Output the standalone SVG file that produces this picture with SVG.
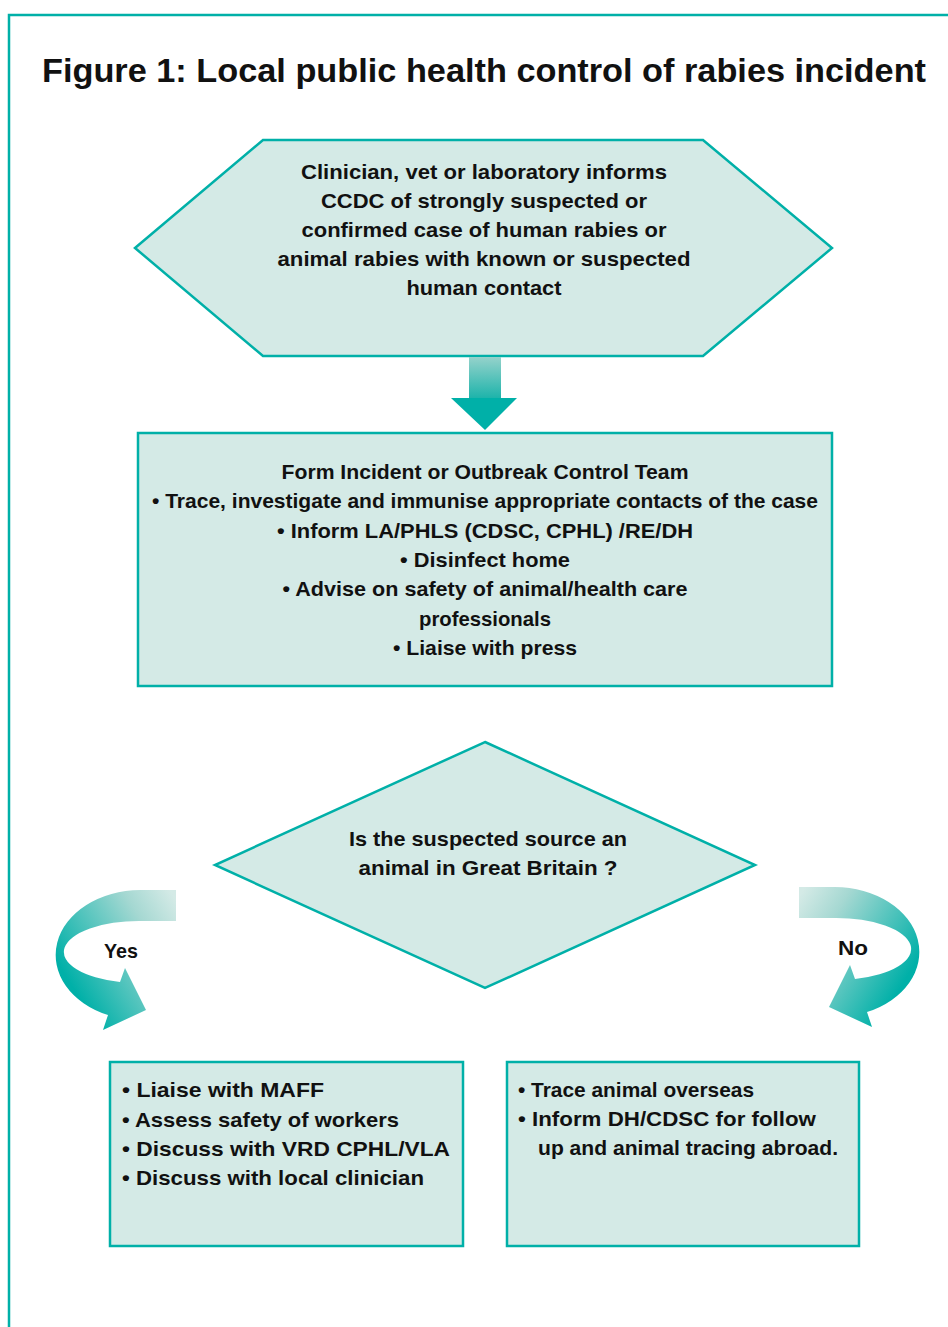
<svg xmlns="http://www.w3.org/2000/svg" width="948" height="1327" viewBox="0 0 948 1327">
<defs>
<style>
.shape{fill:#D4EAE6;stroke:#00B0A8;stroke-width:2.5}
.t{font-family:"Liberation Sans",Arial,sans-serif;font-weight:bold;font-size:21px;fill:#111}
.c{text-anchor:middle}
.title{font-family:"Liberation Sans",Arial,sans-serif;font-weight:bold;font-size:33px;fill:#111}
</style>
<linearGradient id="shaft" x1="0" y1="0" x2="0" y2="1">
<stop offset="0" stop-color="#95D2CB"/>
<stop offset="1" stop-color="#1BB3AA"/>
</linearGradient>
<linearGradient id="bend" gradientUnits="userSpaceOnUse" x1="176" y1="900" x2="62" y2="970">
<stop offset="0" stop-color="#D4EAE6"/>
<stop offset="0.3" stop-color="#A5D8D2"/>
<stop offset="1" stop-color="#00B0A8"/>
</linearGradient>
</defs>
<rect width="948" height="1327" fill="#fff"/>
<path d="M9,1327 L9,15 L948,15" fill="none" stroke="#00B0A8" stroke-width="2.5"/>
<text class="title" x="42" y="82" textLength="884" lengthAdjust="spacingAndGlyphs">Figure 1: Local public health control of rabies incident</text>

<g id="node-start">
<polygon class="shape" points="135,248 263,140 703,140 832,248 703,356 263,356"/>
<text class="t c" x="484" y="179" textLength="366" lengthAdjust="spacingAndGlyphs">Clinician, vet or laboratory informs</text>
<text class="t c" x="484" y="208" textLength="326" lengthAdjust="spacingAndGlyphs">CCDC of strongly suspected or</text>
<text class="t c" x="484" y="237" textLength="365" lengthAdjust="spacingAndGlyphs">confirmed case of human rabies or</text>
<text class="t c" x="484" y="266" textLength="413" lengthAdjust="spacingAndGlyphs">animal rabies with known or suspected</text>
<text class="t c" x="484" y="295" textLength="155" lengthAdjust="spacingAndGlyphs">human contact</text>
</g>

<g id="node-team">
<rect class="shape" x="138" y="433" width="694" height="253"/>
<text class="t c" x="485" y="479" textLength="407" lengthAdjust="spacingAndGlyphs">Form Incident or Outbreak Control Team</text>
<text class="t c" x="485" y="508" textLength="666" lengthAdjust="spacingAndGlyphs">• Trace, investigate and immunise appropriate contacts of the case</text>
<text class="t c" x="485" y="538" textLength="416" lengthAdjust="spacingAndGlyphs">• Inform LA/PHLS (CDSC, CPHL) /RE/DH</text>
<text class="t c" x="485" y="567" textLength="170" lengthAdjust="spacingAndGlyphs">• Disinfect home</text>
<text class="t c" x="485" y="596" textLength="405" lengthAdjust="spacingAndGlyphs">• Advise on safety of animal/health care</text>
<text class="t c" x="485" y="626" textLength="132" lengthAdjust="spacingAndGlyphs">professionals</text>
<text class="t c" x="485" y="655" textLength="184" lengthAdjust="spacingAndGlyphs">• Liaise with press</text>
</g>

<g id="node-decision">
<polygon class="shape" points="485,742 755,865 485,988 215,865"/>
<text class="t c" x="488" y="846" textLength="278" lengthAdjust="spacingAndGlyphs">Is the suspected source an</text>
<text class="t c" x="488" y="875" textLength="259" lengthAdjust="spacingAndGlyphs">animal in Great Britain ?</text>
</g>

<g id="node-yes">
<rect class="shape" x="110" y="1062" width="353" height="184"/>
<text class="t" x="122" y="1097" textLength="202" lengthAdjust="spacingAndGlyphs">• Liaise with MAFF</text>
<text class="t" x="122" y="1127" textLength="277" lengthAdjust="spacingAndGlyphs">• Assess safety of workers</text>
<text class="t" x="122" y="1156" textLength="328" lengthAdjust="spacingAndGlyphs">• Discuss with VRD CPHL/VLA</text>
<text class="t" x="122" y="1185" textLength="302" lengthAdjust="spacingAndGlyphs">• Discuss with local clinician</text>
</g>

<g id="node-no">
<rect class="shape" x="507" y="1062" width="352" height="184"/>
<text class="t" x="518" y="1097" textLength="236" lengthAdjust="spacingAndGlyphs">• Trace animal overseas</text>
<text class="t" x="518" y="1126" textLength="298" lengthAdjust="spacingAndGlyphs">• Inform DH/CDSC for follow</text>
<text class="t" x="538" y="1155" textLength="300" lengthAdjust="spacingAndGlyphs">up and animal tracing abroad.</text>
</g>

<g id="connectors">
<rect x="469" y="357" width="32" height="42" fill="url(#shaft)"/>
<polygon points="451,398 517,398 485,430" fill="#00B0A8"/>
<g id="arrow-yes">
<path d="M176,890 L140,890 A85,65 0 0 0 108,1015 L103,1030 L146,1010 L125,968 L120,982 A75,31 0 0 1 140,921 L176,921 Z" fill="url(#bend)"/>
<text class="t" x="104" y="958" textLength="34" lengthAdjust="spacingAndGlyphs">Yes</text>
</g>
<g id="arrow-no">
<path transform="translate(975,-3) scale(-1,1)" d="M176,890 L140,890 A85,65 0 0 0 108,1015 L103,1030 L146,1010 L125,968 L120,982 A75,31 0 0 1 140,921 L176,921 Z" fill="url(#bend)"/>
<text class="t" x="838" y="955" textLength="30" lengthAdjust="spacingAndGlyphs">No</text>
</g>
</g>
</svg>
